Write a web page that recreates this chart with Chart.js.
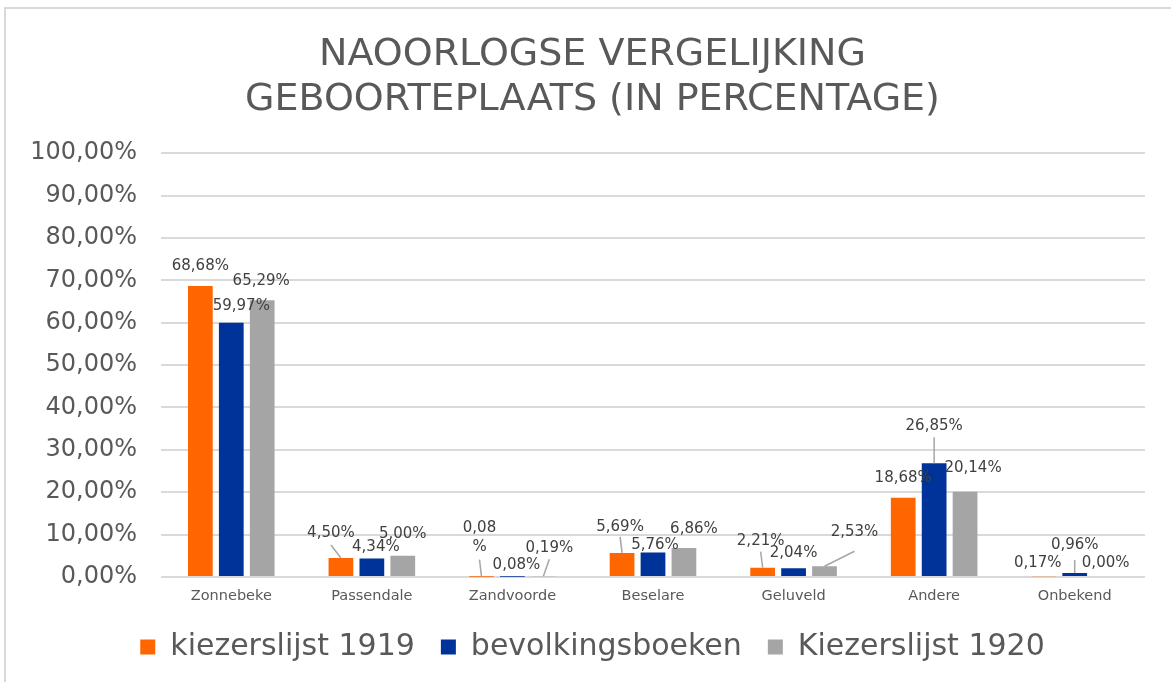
<!DOCTYPE html>
<html>
<head>
<meta charset="utf-8">
<script src="https://cdn.jsdelivr.net/npm/chart.js@4"></script>
<style>
  html, body { margin: 0; padding: 0; background: #fff; overflow: hidden; }
  #frame {
    position: absolute; left: 4px; top: 7px; right: -10px; bottom: -10px;
    border-left: 2px solid #d9d9d9; border-top: 2px solid #d9d9d9;
  }
  #wrap { position: absolute; left: 0; top: 0; width: 1171px; height: 682px; }
</style>
</head>
<body>
<div id="frame"></div>
<div id="wrap"><canvas id="chart" width="1171" height="682"></canvas></div>
<script>
const categories = ["Zonnebeke", "Passendale", "Zandvoorde", "Beselare", "Geluveld", "Andere", "Onbekend"];
const kiezerslijst1919 = [68.68, 4.50, 0.08, 5.69, 2.21, 18.68, 0.17];
const bevolkingsboeken = [59.97, 4.34, 0.08, 5.76, 2.04, 26.85, 0.96];
const kiezerslijst1920 = [65.29, 5.00, 0.19, 6.86, 2.53, 20.14, 0.00];
const seriesNames = ["kiezerslijst 1919", "bevolkingsboeken", "Kiezerslijst 1920"];
const seriesColors = ["#FF6600", "#003399", "#A5A5A5"];

// where each data label sits, relative to the top of its bar (moved by hand like in Excel)
const labelPos = [
  [{dx: 0, dy: -20}, {dx: -10, dy: -25, leader: 12}, {dx: -2, dy: -39, leader: 22, wrap: true},
   {dx: -2, dy: -26, leader: 10}, {dx: -2, dy: -27, leader: 11}, {dx: 0, dy: -20}, {dx: -6, dy: -13}],
  [{dx: 10, dy: -17}, {dx: 4, dy: -11}, {dx: 4, dy: -12}, {dx: 2, dy: -7},
   {dx: 0, dy: -15}, {dx: 0, dy: -37, leader: 11}, {dx: 0, dy: -28, leader: 15}],
  [{dx: -1, dy: -19}, {dx: 0, dy: -22}, {dx: 6, dy: -28, leader: 11}, {dx: 10, dy: -19},
   {dx: 30, dy: -34, leader: 19}, {dx: 8, dy: -24}, {dx: 0, dy: -14}]
];

const FONT = "'DejaVu Sans', Verdana, sans-serif";

function pct(v) {
  return v.toFixed(2).replace(".", ",") + "%";
}

const barLabels = {
  id: "barLabels",
  afterDatasetsDraw(chart) {
    const ctx = chart.ctx;
    ctx.save();
    ctx.font = "15px " + FONT;
    ctx.textAlign = "center";
    ctx.textBaseline = "middle";
    chart.data.datasets.forEach((ds, i) => {
      const meta = chart.getDatasetMeta(i);
      meta.data.forEach((bar, j) => {
        const pos = labelPos[i][j];
        const lx = bar.x + pos.dx;
        const ly = bar.y + pos.dy;
        if (pos.leader) {
          ctx.strokeStyle = "#A6A6A6";
          ctx.lineWidth = 1.5;
          ctx.beginPath();
          ctx.moveTo(lx, ly + pos.leader);
          ctx.lineTo(bar.x, bar.y);
          ctx.stroke();
        }
        ctx.fillStyle = "#404040";
        const text = pct(ds.data[j]);
        if (pos.wrap) {
          ctx.fillText(text.slice(0, -1), lx, ly - 9.5);
          ctx.fillText("%", lx, ly + 9.5);
        } else {
          ctx.fillText(text, lx, ly);
        }
      });
    });
    ctx.restore();
  }
};

const allSeries = [kiezerslijst1919, bevolkingsboeken, kiezerslijst1920];

new Chart(document.getElementById("chart"), {
  type: "bar",
  data: {
    labels: categories,
    datasets: allSeries.map((values, i) => ({
      label: seriesNames[i],
      data: values,
      backgroundColor: seriesColors[i],
      borderWidth: 0,
      categoryPercentage: 0.66,
      barPercentage: 0.8
    }))
  },
  options: {
    responsive: false,
    animation: false,
    layout: { padding: { left: 14, right: 0, top: 0, bottom: 10 } },
    plugins: {
      title: {
        display: true,
        text: ["NAOORLOGSE VERGELIJKING", "GEBOORTEPLAATS (IN PERCENTAGE)"],
        color: "#595959",
        font: { family: FONT, size: 38, weight: "normal", lineHeight: 1.2 },
        padding: { top: 32, bottom: 30 }
      },
      legend: {
        position: "bottom",
        labels: {
          color: "#595959",
          font: { family: FONT, size: 30 },
          boxWidth: 15,
          boxHeight: 15,
          padding: 26
        }
      },
      tooltip: { enabled: false }
    },
    scales: {
      x: {
        grid: { display: false, drawTicks: false },
        border: { display: false },
        ticks: { color: "#595959", font: { family: FONT, size: 14.5 }, padding: 11 },
        afterFit(scale) { scale.height = 29; }
      },
      y: {
        min: 0,
        max: 100,
        ticks: {
          stepSize: 10,
          color: "#595959",
          font: { family: FONT, size: 24 },
          padding: 24,
          callback: (v) => pct(v)
        },
        grid: { color: "#D9D9D9", lineWidth: 2, drawTicks: false },
        border: { display: false },
        afterFit(scale) { scale.width = 147; }
      },
      yRight: {
        position: "right",
        display: true,
        ticks: { display: false },
        grid: { display: false, drawTicks: false },
        border: { display: false },
        afterFit(scale) { scale.width = 26; }
      }
    }
  },
  plugins: [barLabels]
});
</script>
</body>
</html>
